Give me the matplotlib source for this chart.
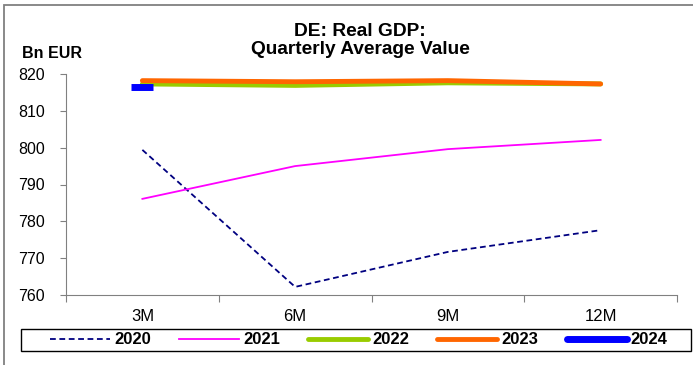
import matplotlib
matplotlib.use("Agg")
import matplotlib.pyplot as plt
from matplotlib.patches import Rectangle
from matplotlib.lines import Line2D

plt.rcParams['font.family'] = ['Liberation Sans', 'DejaVu Sans']

categories = ["3M", "6M", "9M", "12M"]
s2020 = [799.4, 762.2, 771.7, 777.6]
s2021 = [786.1, 795.0, 799.6, 802.1]
s2022 = [817.3, 816.9, 817.6, 817.3]
s2023 = [818.2, 817.9, 818.2, 817.3]
s2024 = [816.4]
yticks = [760, 770, 780, 790, 800, 810, 820]
years = ["2020", "2021", "2022", "2023", "2024"]

fig = plt.figure(figsize=(6.93, 3.65), dpi=100)
ax = fig.add_axes([66/693, 1-295/365, (677-66)/693, (295-74)/365])

dash = (0, (3.2, 2.0))
x = list(range(len(categories)))
ax.plot(x, s2020, color='#000080', lw=1.3, ls=dash)
ax.plot(x, s2021, color='#FF00FF', lw=1.3)
ax.plot(x, s2022, color='#99CC00', lw=3.5, solid_capstyle='round')
ax.plot(x, s2023, color='#FF6600', lw=3.5, solid_capstyle='round')
ax.plot(x[:1], s2024, color='#0000FF', marker='_', markersize=16, markeredgewidth=5, ls='none')

ax.set_xlim(-0.5, 3.5)
ax.set_ylim(760, 820)
ax.set_yticks(yticks)
ax.set_xticks([-0.5, 0.5, 1.5, 2.5, 3.5], minor=False)
ax.set_xticklabels([])
ax.set_xticks(x, minor=True)
ax.set_xticklabels(categories, minor=True)
ax.tick_params(axis='x', which='minor', length=0, pad=10, labelsize=12)
ax.tick_params(axis='x', which='major', length=5, direction='out', color='#808080')
ax.tick_params(axis='y', length=4, direction='out', labelsize=11.5, color='#808080', pad=11)
for s in ['top', 'right']:
    ax.spines[s].set_visible(False)
for s in ['left', 'bottom']:
    ax.spines[s].set_color('#808080')

fig.text(360/693, 1-32/365, "DE: Real GDP:", ha='center', va='center', fontsize=13.8, fontweight='bold')
fig.text(360/693, 1-49/365, "Quarterly Average Value", ha='center', va='center', fontsize=13.8, fontweight='bold')
fig.text(22/693, 1-53/365, "Bn EUR", ha='left', va='center', fontsize=11.5, fontweight='bold')

handles = [
    Line2D([], [], color='#000080', lw=1.3, ls=dash),
    Line2D([], [], color='#FF00FF', lw=1.3),
    Line2D([], [], color='#99CC00', lw=3.5, solid_capstyle='round'),
    Line2D([], [], color='#FF6600', lw=3.5, solid_capstyle='round'),
    Line2D([], [], color='#0000FF', lw=5, solid_capstyle='round'),
]
fig.legend(handles, years, ncol=5,
           loc='center', bbox_to_anchor=(359/693, 1-340/365),
           frameon=False, prop={'weight': 'bold', 'size': 12},
           handlelength=3.6, columnspacing=1.68, handletextpad=0.25, borderpad=0.2)

fig.patches.append(Rectangle((21/693, 1-351/365), 670/693, 22/365, transform=fig.transFigure,
                             fill=False, edgecolor='black', lw=1.0))
fig.patches.append(Rectangle((3.5/693, -0.05), 700/693, 1.05-5/365, transform=fig.transFigure,
                             fill=False, edgecolor='#808080', lw=1.3))

fig.savefig("out.png", dpi=100)
